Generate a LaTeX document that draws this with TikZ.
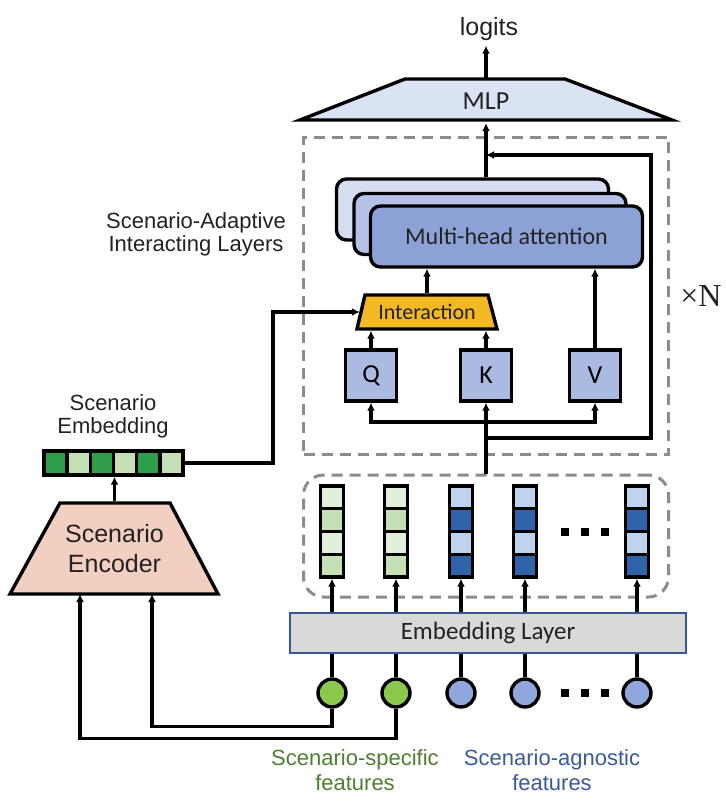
\documentclass[tikz,border=0pt]{standalone}
\usepackage[no-math]{fontspec}
\setmainfont{Liberation Sans}
\newfontfamily\calfont{Carlito}
\newfontfamily\serfont{Liberation Serif}
\usetikzlibrary{arrows.meta}

\definecolor{mlpblue}{HTML}{DAE3F3}
\definecolor{headA}{HTML}{8CA2D6}
\definecolor{headB}{HTML}{B4C2E8}
\definecolor{headC}{HTML}{D6DDF1}
\definecolor{qkvblue}{HTML}{AABAE0}
\definecolor{interyellow}{HTML}{F4B922}
\definecolor{encpink}{HTML}{F3CFC1}
\definecolor{layergray}{HTML}{D9D9D9}
\definecolor{layerblue}{HTML}{3A5795}
\definecolor{embDark}{HTML}{2E9E4A}
\definecolor{embLight}{HTML}{C5E0B4}
\definecolor{featGreen}{HTML}{8CC84B}
\definecolor{featBlue}{HTML}{8FA7DC}
\definecolor{vecGreenA}{HTML}{E2EFDA}
\definecolor{vecGreenB}{HTML}{C5E0B4}
\definecolor{vecBlueA}{HTML}{BDD3EE}
\definecolor{vecBlueB}{HTML}{3062AA}
\definecolor{dashgray}{HTML}{8C8C8C}
\definecolor{txtgray}{HTML}{222222}
\definecolor{specGreen}{HTML}{4F7D31}
\definecolor{agnBlue}{HTML}{3A5A9C}

\begin{document}
\begin{tikzpicture}[ x=1pt, y=-1pt, line width=3.4pt, >={ Latex[ length=8pt, width=8pt ] },
        txt/.style={ font=\fontsize{22}{23}\selectfont, text=txtgray, align=center },
        cal/.style={ font=\calfont\fontsize{24}{26}\selectfont, text=txtgray },
        blk/.style={ draw, fill=qkvblue, inner sep=0pt, minimum width=51pt, minimum height=51pt,
            font=\calfont\fontsize{26}{28}\selectfont },
        headbox/.style={ draw, rounded corners=10pt, minimum width=272pt, minimum height=61pt },
        grp/.style={ draw=dashgray, line width=3pt, dash pattern=on 11pt off 7pt, minimum width=365pt, inner sep=0pt },
        feat/.style={ circle, draw, minimum size=28pt, inner sep=0pt } ]

        \useasboundingbox ( 0, 0 ) rectangle ( 726, 804 );

        % выход
        \node [ font=\fontsize{25}{26}\selectfont, text=txtgray ] (logits) at ( 489, 29 ) {logits};
        \draw [ fill=mlpblue ] ( 300, 120 ) -- ( 405, 79 ) -- ( 565, 79 ) -- ( 672, 120 ) -- cycle;
        \node [ cal, font=\calfont\fontsize{26}{28}\selectfont, minimum width=160pt, minimum height=41pt, inner sep=0pt ] (mlp) at ( 486, 101 ) {MLP};
        \draw [ -> ] (mlp.north) -- (mlp.north |- logits.south);

        % блок взаимодействия
        \node [ grp, minimum height=317pt ] (salBox) at ( 486, 295.5 ) {};
        \node [ txt ] (salLabel) at ( 196, 234 ) {Scenario-Adaptive\\Interacting Layers};
        \node [ font=\serfont\fontsize{32}{34}\selectfont, text=txtgray ] (times) at ( 701, 296 ) {×N};

        % внимание
        \node [ headbox, fill=headC ] (mhaBack) at ( 472.5, 209.5 ) {};
        \node [ headbox, fill=headB ] (mhaMid) at ( 490, 224 ) {};
        \node [ headbox, fill=headA, cal ] (mha) at ( 506.5, 236.5 ) {Multi-head attention};
        \draw [ -> ] (mhaBack.north -| mlp) -- (mlp.south);

        % остаточная связь
        \coordinate (skip) at ( 486, 438 );
        \coordinate (skipTop) at ( 651, 155 );
        \draw [ -> ] (skip) -| (skipTop) -- (skipTop -| mlp);

        % Interaction
        \draw [ fill=interyellow ] ( 357, 329 ) -- ( 365, 295 ) -- ( 488, 295 ) -- ( 497, 329 ) -- cycle;
        \node [ cal, font=\calfont\fontsize{22}{24}\selectfont, minimum width=123pt, minimum height=34pt, inner sep=0pt ] (inter) at ( 427, 312 ) {Interaction};
        \draw [ -> ] (inter.north) -- (inter.north |- mha.south);

        % Q, K, V
        \node [ blk ] (boxQ) at ( 371, 375.5 ) {Q};
        \node [ blk ] (boxK) at ( 486, 375.5 ) {K};
        \node [ blk ] (boxV) at ( 595, 375.5 ) {V};
        \draw [ -> ] (boxQ.north) -- (boxQ.north |- inter.south);
        \draw [ -> ] (boxK.north) -- (boxK.north |- inter.south);
        \draw [ -> ] (boxV.north) -- (boxV.north |- mha.south);
        \coordinate (feed) at ( 486, 422 );
        \draw [ -> ] (feed) -| (boxQ.south);
        \draw [ -> ] (feed) -| (boxV.south);

        % эмбеддинг сценария
        \node [ txt ] (scLabel) at ( 113, 416 ) {Scenario\\Embedding};
        \foreach \i/\c in {0/embDark,1/embLight,2/embDark,3/embLight,4/embDark,5/embLight}
            \draw [ fill=\c ] ( 44+23.17*\i, 451 ) rectangle ++( 23.17, 24 );
        \node [ draw, minimum width=139pt, minimum height=24pt, inner sep=0pt ] (scEmb) at ( 113.5, 463 ) {};
        \coordinate (bend) at ( 273, 312 );
        \draw [ -> ] (scEmb.east) -| (bend) -- ([xshift=-4pt]inter.west);

        % кодировщик
        \draw [ fill=encpink ] ( 10, 594 ) -- ( 60, 503 ) -- ( 170, 503 ) -- ( 218, 594 ) -- cycle;
        \node [ font=\fontsize{25}{30}\selectfont, text=txtgray, align=center, minimum width=110pt, minimum height=91pt, inner sep=0pt ] (enc) at ( 114.5, 548.5 ) {Scenario\\Encoder};
        \draw [ -> ] (enc.north) -- (enc.north |- scEmb.south);

        % слой эмбеддингов
        \node [ draw=layerblue, fill=layergray, line width=2.4pt, minimum width=396pt, minimum height=40pt, cal, font=\calfont\fontsize{25}{27}\selectfont ] (embLayer) at ( 488, 633 ) {Embedding Layer};
        \node [ grp, rounded corners=20pt, minimum height=122pt ] (embBox) at ( 486, 536 ) {};
        \draw [ -> ] (embBox.north) -- (boxK.south);

        % признаки и векторы
        \foreach \n/\x/\c/\ca/\cb in {1/332/featGreen/vecGreenA/vecGreenB,2/396/featGreen/vecGreenA/vecGreenB,3/461/featBlue/vecBlueA/vecBlueB,4/525/featBlue/vecBlueA/vecBlueB,5/637/featBlue/vecBlueA/vecBlueB} {
            \node [ feat, fill=\c ] (feat\n) at ( \x, 693 ) {};
            \foreach \j/\cc in {0/\ca,1/\cb,2/\ca,3/\cb}
                \draw [ fill=\cc ] ( \x-11.5, 486+22.75*\j ) rectangle ++( 23, 22.75 );
            \node [ draw, minimum width=23pt, minimum height=91pt, inner sep=0pt ] (vec\n) at ( \x, 531.5 ) {};
            \draw (feat\n.north) -- (embLayer.south -| feat\n);
            \draw [ -> ] (embLayer.north -| feat\n) -- (vec\n.south);
        }
        \foreach \y in {532,693}
            \foreach \x in {565,585,605}
                \fill ( \x-4, \y-4 ) rectangle ++( 8, 8 );

        % входы кодировщика
        \coordinate (encIn1) at ( 152, 594 );
        \coordinate (encIn2) at ( 80, 594 );
        \draw [ -> ] (feat1.south) -- ++( 0, 18 ) -| (encIn1);
        \draw [ -> ] (feat2.south) -- ++( 0, 30 ) -| (encIn2);

        % подписи
        \node [ txt, text=specGreen, font=\fontsize{22}{25}\selectfont ] (specLabel) at ( 355, 770 ) {Scenario-specific\\features};
        \node [ txt, text=agnBlue, font=\fontsize{22}{25}\selectfont ] (agnLabel) at ( 552, 770 ) {Scenario-agnostic\\features};
    \end{tikzpicture}
\end{document}
